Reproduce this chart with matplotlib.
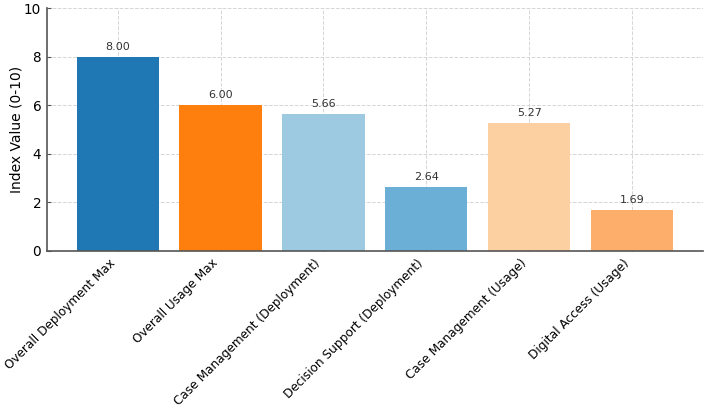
import matplotlib
matplotlib.use("Agg")
import matplotlib.pyplot as plt

# data
categories = [
    "Overall Deployment Max",
    "Overall Usage Max",
    "Case Management (Deployment)",
    "Decision Support (Deployment)",
    "Case Management (Usage)",
    "Digital Access (Usage)",
]
values = [8.00, 6.00, 5.66, 2.64, 5.27, 1.69]
bar_colors = ["#1f77b4", "#ff7f0e", "#9ecae1", "#6baed6", "#fdd0a2", "#fdae6b"]

fig = plt.figure(figsize=(7.08, 4.08), dpi=100)
ax = fig.add_axes([0.066, 0.385, 0.927, 0.595])

bars = ax.bar(range(len(categories)), values, color=bar_colors, width=0.8, zorder=2)

# value labels above each bar
for rect, v in zip(bars, values):
    ax.text(rect.get_x() + rect.get_width() / 2, rect.get_height() + 0.2,
            f"{v:.2f}", ha="center", va="bottom", fontsize=8, color="#333333", zorder=3)

ax.set_ylim(0, 10)
ax.set_ylabel("Index Value (0-10)", fontsize=10, labelpad=0)
ax.set_xticks(range(len(categories)))
ax.set_xticklabels(categories, rotation=45, ha="right", fontsize=8.7)
ax.tick_params(axis="y", labelsize=9.8)
ax.tick_params(axis="both", direction="in", color="#555555", length=3, pad=4)

ax.grid(True, linestyle="--", color="#d5d5d5", linewidth=0.7, zorder=0)
ax.set_axisbelow(True)
for side in ["top", "right"]:
    ax.spines[side].set_visible(False)
for side in ["left", "bottom"]:
    ax.spines[side].set_color("#555555")
    ax.spines[side].set_linewidth(1.2)

fig.savefig("out.png", dpi=100)
